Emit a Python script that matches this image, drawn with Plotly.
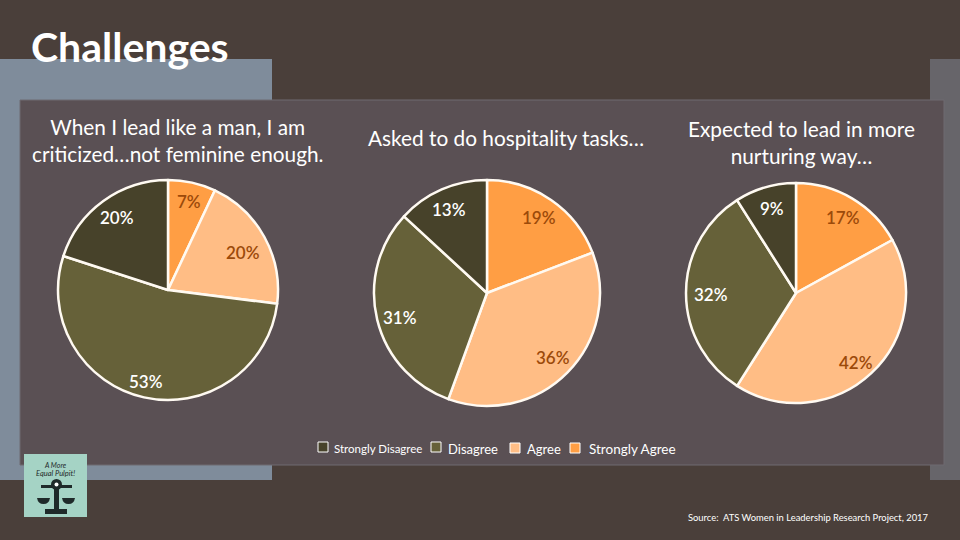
# Challenges slide: three pies about women in leadership
import plotly.graph_objects as go

categories = ['Strongly Agree', 'Agree', 'Disagree', 'Strongly Disagree']
feminine_values = [7, 20, 53, 20]
hospitality_values = [19, 36, 31, 13]
nurturing_values = [17, 42, 32, 9]

slice_colors = ['#FF9E44', '#FFBD85', '#666139', '#47422A']
label_colors = ['#9C4A0A', '#9C4A0A', '#FFFFFF', '#FFFFFF']
FONT = 'Lato'


# pixel position on the 960x540 slide -> paper fraction
def px(x):
    return x / 960


def py(y):
    return 1 - y / 540


def rect(x0, y0, x1, y1, fill, line=None, width=0):
    return dict(type='rect', xref='paper', yref='paper', x0=px(x0), x1=px(x1), y0=py(y0), y1=py(y1),
                fillcolor=fill, line=dict(color=line, width=width), layer='below')


def text(x, y, s, size, color='#FFFFFF', anchor='center', weight=400):
    return dict(xref='paper', yref='paper', x=px(x), y=py(y), text=s, showarrow=False, xanchor=anchor, yanchor='middle',
                font=dict(family=FONT, size=size, color=color, weight=weight))


fig = go.Figure()

#############################################################################################################
# Pies: center x, center y, radius in pixels, and where each percent label sits
pies = [
    (feminine_values, 168, 290, 110, [(189, 202), (243, 252), (146, 381), (117, 218)]),
    (hospitality_values, 487, 293, 113, [(539, 218), (553, 357), (400, 317), (449, 209)]),
    (nurturing_values, 796, 293, 110, [(843, 218), (856, 362), (711, 294), (772, 208)]),
]

annotations = []
for values, cx, cy, r, spots in pies:
    fig.add_trace(go.Pie(labels=categories, values=values, sort=False, direction='clockwise', rotation=0,
                         textinfo='none', showlegend=False,
                         marker=dict(colors=slice_colors, line=dict(color='#FFFAF2', width=2.5)),
                         domain=dict(x=[px(cx - r), px(cx + r)], y=[py(cy + r), py(cy - r)])))
    for v, spot, c in zip(values, spots, label_colors):
        annotations.append(text(spot[0], spot[1], f'{v}%', 17, c, weight=600))

#############################################################################################################
# Background blocks
shapes = [
    rect(0, 59, 272, 480, '#7F8C9B'),
    rect(930, 59, 960, 480, '#67656A'),
    rect(20, 100, 944, 465, '#5A5054', '#6E6A70', 1),
]

# Legend swatches, the text sizes differ in the original
shapes += [
    rect(318, 442, 328, 452, slice_colors[3], '#FFFFFF', 1),
    rect(431, 442, 441, 452, slice_colors[2], '#FFFFFF', 1),
    rect(510, 443, 520, 453, slice_colors[1], '#FFFFFF', 1),
    rect(570, 443, 580, 453, slice_colors[0], '#FFFFFF', 1),
]

# Logo: teal square with a pair of scales
logo_dark = '#1F2A2A'
shapes += [
    rect(24, 454, 87, 517, '#A5D3C5'),
    rect(54, 486, 59, 510, logo_dark),
    rect(45, 509, 67, 514, logo_dark),
    rect(41, 485, 72, 488, logo_dark),
    dict(type='circle', xref='paper', yref='paper', x0=px(51), x1=px(62), y0=py(490), y1=py(479),
         fillcolor=logo_dark, line=dict(width=0)),
    dict(type='circle', xref='paper', yref='paper', x0=px(54.5), x1=px(58.5), y0=py(486.5), y1=py(482.5),
         fillcolor='#FFFFFF', line=dict(width=0)),
    dict(type='path', xref='paper', yref='paper', fillcolor=logo_dark, line=dict(width=0),
         path=f'M {px(37)} {py(498)} L {px(50)} {py(498)} Q {px(49)} {py(504)} {px(43.5)} {py(504)} Q {px(38)} {py(504)} {px(37)} {py(498)} Z'),
    dict(type='path', xref='paper', yref='paper', fillcolor=logo_dark, line=dict(width=0),
         path=f'M {px(62)} {py(498)} L {px(75)} {py(498)} Q {px(74)} {py(504)} {px(68.5)} {py(504)} Q {px(63)} {py(504)} {px(62)} {py(498)} Z'),
]

#############################################################################################################
# Text
annotations += [
    text(29, 47, '<b>Challenges</b>', 41, anchor='left'),
    text(177, 140, 'When I lead like a man, I am<br>criticized…not feminine enough.', 20.8),
    text(506, 137, 'Asked to do hospitality tasks…', 20.8),
    text(801, 142, 'Expected to lead in more<br>nurturing way…', 20.8),
    text(332, 448, 'Strongly Disagree', 11.5, anchor='left'),
    text(446, 449, 'Disagree', 13, anchor='left'),
    text(525, 449, 'Agree', 13, anchor='left'),
    text(587, 449, 'Strongly Agree', 13.5, anchor='left'),
    text(686, 517, 'Source:  ATS Women in Leadership Research Project, 2017', 9.4, anchor='left'),
    text(55.5, 465, '<i>A More</i>', 7, logo_dark),
    text(55.5, 473, '<i>Equal Pulpit!</i>', 7.5, logo_dark),
]

fig.update_layout(width=960, height=540, autosize=False, margin=dict(l=0, r=0, t=0, b=0),
                  paper_bgcolor='#4A3F3A', plot_bgcolor='#4A3F3A', shapes=shapes, annotations=annotations)

# page margin off so the slide fills the window
fig.write_html("out.html", post_script="document.body.style.margin='0';", config=dict(displayModeBar=False))
